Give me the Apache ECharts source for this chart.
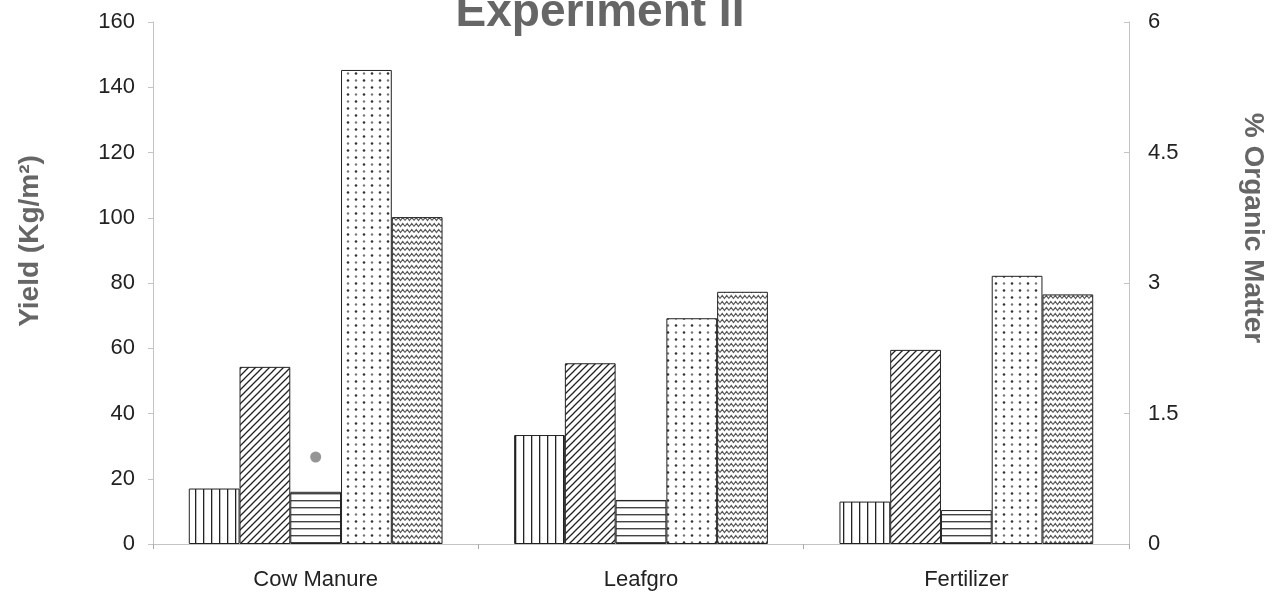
<!DOCTYPE html>
<html>
<head>
<meta charset="utf-8">
<script src="https://cdn.jsdelivr.net/npm/echarts@6/dist/echarts.min.js"></script>
<style>
html,body{margin:0;padding:0;background:#fff;}
#chart{width:1280px;height:595px;}
</style>
</head>
<body>
<div id="chart"></div>
<script>
var categories = ['Cow Manure', 'Leafgro', 'Fertilizer'];
var verticalSeries = [17, 33.4, 13];
var diagonalSeries = [54.3, 55.4, 59.5];
var horizontalSeries = [16, 13.5, 10.4];
var dottedSeries = [145.3, 69.2, 82.2];
var wavySeries = [100.2, 77.3, 76.5];
var organicMatter = [1.0, null, null];
var leftTicks = [0, 20, 40, 60, 80, 100, 120, 140, 160];
var rightTicks = [0, 1.5, 3, 4.5, 6];

function makeCanvas(w, h, draw) {
  var c = document.createElement('canvas');
  c.width = w; c.height = h;
  var ctx = c.getContext('2d');
  ctx.fillStyle = '#fff';
  ctx.fillRect(0, 0, w, h);
  draw(ctx, w, h);
  return c;
}
var patVertical = makeCanvas(8, 8, function (ctx) {
  ctx.fillStyle = '#222';
  ctx.fillRect(3, 0, 1.3, 8);
});
var patDiagonal = makeCanvas(7, 7, function (ctx) {
  ctx.strokeStyle = '#222';
  ctx.lineWidth = 1.3;
  ctx.beginPath();
  ctx.moveTo(-1, 8); ctx.lineTo(8, -1);
  ctx.moveTo(-4, 4); ctx.lineTo(4, -4);
  ctx.moveTo(3, 11); ctx.lineTo(11, 3);
  ctx.stroke();
});
var patHorizontal = makeCanvas(8, 7, function (ctx) {
  ctx.fillStyle = '#444';
  ctx.fillRect(0, 3, 8, 1.4);
});
var patDots = makeCanvas(16, 14, function (ctx) {
  ctx.fillStyle = '#333';
  ctx.beginPath(); ctx.arc(4, 3.5, 1.3, 0, Math.PI * 2); ctx.fill();
  ctx.beginPath(); ctx.arc(12, 10.5, 1.3, 0, Math.PI * 2); ctx.fill();
  ctx.fillStyle = '#777';
  ctx.beginPath(); ctx.arc(12, 3.5, 1.2, 0, Math.PI * 2); ctx.fill();
  ctx.beginPath(); ctx.arc(4, 10.5, 1.2, 0, Math.PI * 2); ctx.fill();
});
var patWaves = makeCanvas(9, 6, function (ctx) {
  ctx.strokeStyle = '#555';
  ctx.lineWidth = 1.2;
  ctx.beginPath();
  ctx.moveTo(0, 4.5); ctx.lineTo(2.25, 1.5); ctx.lineTo(4.5, 4.5); ctx.lineTo(6.75, 1.5); ctx.lineTo(9, 4.5);
  ctx.stroke();
});

function barSeries(name, data, pat) {
  return {
    name: name,
    type: 'bar',
    data: data,
    yAxisIndex: 0,
    barGap: '0%',
    barCategoryGap: '22%',
    itemStyle: {
      color: { image: pat, repeat: 'repeat' },
      borderColor: '#222',
      borderWidth: 1
    },
    emphasis: { disabled: true },
    silent: true
  };
}

var chart = echarts.init(document.getElementById('chart'));
var axisGray = '#c4c4c4';
var option = {
  animation: false,
  backgroundColor: '#fff',
  grid: { left: 153, right: 151, top: 22, bottom: 51 },
  xAxis: {
    type: 'category',
    data: categories,
    axisLine: { lineStyle: { color: axisGray, width: 1 } },
    axisTick: { show: true, alignWithLabel: false, length: 5, lineStyle: { color: '#aaa' } },
    axisLabel: { color: '#222', fontSize: 22, fontFamily: 'Liberation Sans, Arial, sans-serif', margin: 25 }
  },
  yAxis: [
    {
      type: 'value', min: 0, max: 160, interval: 20, position: 'left',
      axisLine: { show: true, lineStyle: { color: axisGray } },
      axisTick: { show: true, length: 5, lineStyle: { color: axisGray } },
      splitLine: { show: false },
      axisLabel: {
        color: '#222', fontSize: 22, margin: 18, fontFamily: 'Liberation Sans, Arial, sans-serif',
        formatter: function (v) { return leftTicks.indexOf(v) >= 0 ? String(v) : ''; }
      }
    },
    {
      type: 'value', min: 0, max: 6, interval: 1.5, position: 'right',
      axisLine: { show: true, lineStyle: { color: axisGray } },
      axisTick: { show: true, length: 5, inside: true, lineStyle: { color: axisGray } },
      splitLine: { show: false },
      axisLabel: {
        color: '#222', fontSize: 22, margin: 19, fontFamily: 'Liberation Sans, Arial, sans-serif',
        formatter: function (v) { return rightTicks.indexOf(v) >= 0 ? String(v) : ''; }
      }
    }
  ],
  graphic: [
    {
      type: 'text', x: 600, y: 13, silent: true,
      style: {
        text: 'Experiment II', fill: '#666', font: 'bold 46px "Liberation Sans", Arial, sans-serif',
        textAlign: 'center', textVerticalAlign: 'middle'
      }
    },
    {
      type: 'text', x: 30, y: 241, rotation: Math.PI / 2, silent: true,
      style: {
        text: 'Yield (Kg/m²)', fill: '#666', font: 'bold 28px "Liberation Sans", Arial, sans-serif',
        textAlign: 'center', textVerticalAlign: 'middle'
      }
    },
    {
      type: 'text', x: 1253, y: 228, rotation: -Math.PI / 2, silent: true,
      style: {
        text: '% Organic Matter', fill: '#666', font: 'bold 28px "Liberation Sans", Arial, sans-serif',
        textAlign: 'center', textVerticalAlign: 'middle'
      }
    }
  ],
  series: [
    barSeries('Vertical', verticalSeries, patVertical),
    barSeries('Diagonal', diagonalSeries, patDiagonal),
    barSeries('Horizontal', horizontalSeries, patHorizontal),
    barSeries('Dotted', dottedSeries, patDots),
    barSeries('Wavy', wavySeries, patWaves),
    {
      name: '% Organic Matter',
      type: 'scatter',
      yAxisIndex: 1,
      data: organicMatter,
      symbol: 'circle',
      symbolSize: 11,
      itemStyle: { color: '#7a7a7a' },
      silent: true
    }
  ]
};
chart.setOption(option);
</script>
</body>
</html>
